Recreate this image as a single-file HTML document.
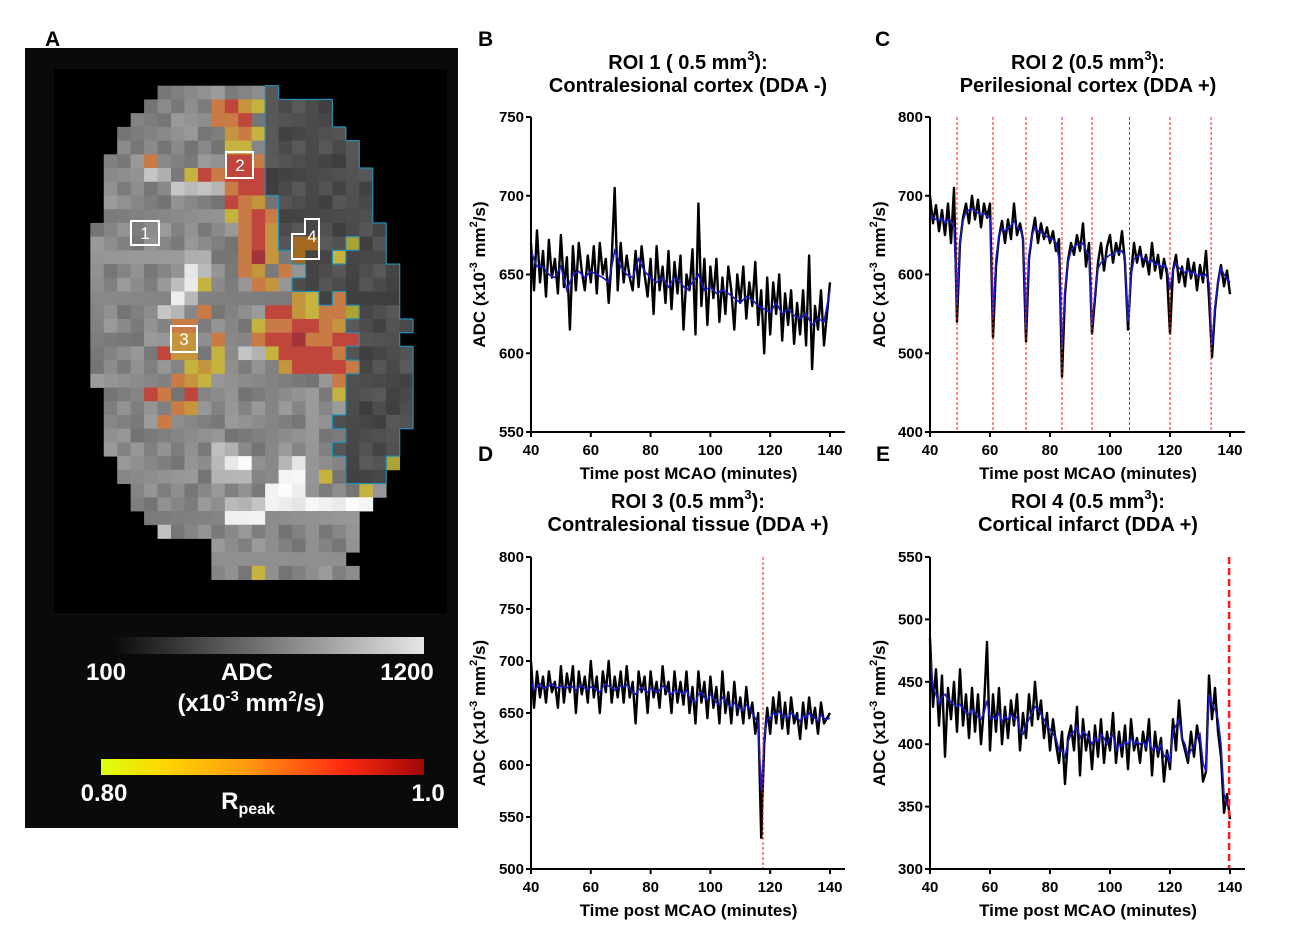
<!DOCTYPE html>
<html><head><meta charset="utf-8"><style>
html,body{margin:0;padding:0;background:#fff;}
svg{display:block;font-family:"Liberation Sans",Arial,sans-serif;}
</style></head><body>
<svg id="fig" width="1311" height="937" viewBox="0 0 1311 937" xmlns="http://www.w3.org/2000/svg">
<defs>
<linearGradient id="gGray" x1="0" x2="1" y1="0" y2="0"><stop offset="0" stop-color="#0a0a0a"/><stop offset="1" stop-color="#e6e6e6"/></linearGradient>
<linearGradient id="gR" x1="0" x2="1" y1="0" y2="0"><stop offset="0" stop-color="#dcff10"/><stop offset="0.2" stop-color="#ffd400"/><stop offset="0.45" stop-color="#ff9a10"/><stop offset="0.75" stop-color="#ff2a10"/><stop offset="1" stop-color="#a00808"/></linearGradient>
</defs>
<g>
<rect x="25" y="48" width="433" height="780" fill="#0a0a0a"/>
<rect x="54" y="69" width="393" height="544" fill="#000"/>
<g id="heat"></g>
<g id="rois" fill="none" stroke="#fff" stroke-width="2">
<rect x="131" y="221" width="28" height="24"/>
<rect x="226" y="152" width="27" height="26"/>
<rect x="171" y="326" width="26" height="26"/>
<polygon points="305,219 319,219 319,259 292,259 292,234 305,234"/>
</g>
<g fill="#fff" font-size="17" text-anchor="middle">
<text x="145" y="239">1</text>
<text x="240" y="171">2</text>
<text x="184" y="345">3</text>
<text x="312" y="242">4</text>
</g>
<rect x="113" y="637" width="311" height="17" fill="url(#gGray)"/>
<g fill="#fff" font-weight="bold" font-size="24" text-anchor="middle">
<text x="106" y="680">100</text>
<text x="247" y="680">ADC</text>
<text x="407" y="680">1200</text>
<text x="251" y="711">(x10<tspan font-size="15" dy="-10">-3</tspan><tspan dy="10"> mm</tspan><tspan font-size="15" dy="-10">2</tspan><tspan dy="10">/s)</tspan></text>
<text x="104" y="801">0.80</text>
<text x="248" y="809">R<tspan font-size="16" dy="5">peak</tspan></text>
<text x="428" y="801">1.0</text>
</g>
<rect x="101" y="759" width="323" height="16" fill="url(#gR)"/>
</g>
<g font-weight="bold" font-size="21" fill="#000">
<text x="45" y="46">A</text>
<text x="478" y="46">B</text>
<text x="875" y="46">C</text>
<text x="478" y="461">D</text>
<text x="876" y="461">E</text>
</g>
<g id="charts"></g>
</svg>
<script>
// ---------- chart data ----------
const xTicks = [40, 60, 80, 100, 120, 140];
const yTicksB = [550, 600, 650, 700, 750];
const yTicksC = [400, 500, 600, 700, 800];
const yTicksD = [500, 550, 600, 650, 700, 750, 800];
const yTicksE = [300, 350, 400, 450, 500, 550];
const rawB = [670,640,678,645,665,636,672,648,660,638,675,642,661,615,668,640,670,652,640,662,645,668,638,670,650,660,632,660,705,640,670,645,662,648,640,665,642,668,650,636,660,625,668,640,655,632,665,628,658,638,662,615,650,640,666,612,695,630,660,618,655,635,660,620,648,625,655,640,615,650,632,655,622,645,630,658,618,640,600,648,612,645,625,650,608,638,618,640,606,632,612,640,605,662,590,630,615,640,605,625,645];
const smoothB = [665,655,655,650,648,655,640,650,652,648,652,650,648,645,665,655,650,648,660,652,648,645,648,642,648,645,640,645,650,640,642,638,640,638,635,632,636,634,630,628,626,632,625,628,624,622,625,618,622,620,640];
const rawC = [700,665,688,655,682,650,690,640,710,540,640,672,690,665,700,670,695,660,690,672,690,520,610,648,668,640,670,645,690,650,665,645,515,620,650,672,640,665,645,660,640,655,630,645,470,575,618,640,625,650,630,665,610,640,525,570,615,640,605,635,650,615,640,625,655,615,530,600,640,615,635,610,625,600,640,605,625,595,620,600,525,605,625,590,610,585,620,595,615,580,612,590,630,570,495,555,590,612,585,605,575];
const smoothC = [680,672,670,668,672,665,670,668,660,560,640,668,680,682,684,680,678,676,678,674,672,545,620,650,658,655,660,662,668,660,658,648,530,625,650,660,655,654,650,648,645,645,640,620,505,580,615,630,635,638,638,640,630,625,535,575,608,615,618,622,625,625,630,628,630,622,540,598,620,622,625,620,620,615,618,612,614,610,612,608,580,605,615,608,606,602,606,600,604,598,600,598,600,590,510,560,590,608,600,595,590];
const rawD = [700,655,690,665,685,660,690,670,680,655,695,660,688,670,695,650,690,668,685,660,700,665,685,650,690,670,700,660,685,665,690,660,695,665,680,640,690,670,685,650,690,665,680,655,695,668,680,650,690,660,680,658,690,650,675,640,690,660,680,645,685,655,675,640,690,650,670,640,680,648,665,640,675,645,660,630,650,530,620,655,630,665,640,670,635,660,630,665,640,650,625,660,635,665,640,655,630,660,640,645,650];
const smoothD = [680,672,675,678,674,675,676,678,676,674,676,675,674,676,675,672,675,676,674,672,675,674,672,670,675,678,676,674,672,674,676,675,677,674,670,668,672,675,672,670,674,672,670,672,676,674,670,668,672,670,670,668,672,665,662,660,668,670,665,662,668,664,660,658,665,662,658,655,660,656,655,652,658,655,650,645,640,575,625,645,645,650,648,652,646,648,645,650,648,646,642,648,645,650,646,645,642,648,645,644,645];
const rawE = [485,430,460,415,455,390,445,420,450,410,460,415,440,405,445,410,440,400,430,482,395,440,410,445,400,430,405,435,415,440,395,425,405,440,415,450,420,435,405,425,395,420,400,385,410,368,405,415,395,430,375,420,395,410,380,415,390,420,385,410,395,425,385,410,390,415,380,420,395,405,385,410,395,420,375,410,390,405,370,395,380,420,395,435,405,395,385,410,390,415,400,370,378,455,420,445,410,390,345,360,340];
const smoothE = [475,445,440,432,438,440,436,434,432,430,432,428,426,424,428,425,422,420,425,435,420,422,420,425,418,422,420,424,420,422,410,408,415,420,425,430,428,424,420,415,412,408,405,395,395,390,402,408,410,415,405,410,408,405,400,405,402,408,405,400,405,408,395,400,398,402,400,405,400,402,400,402,398,405,395,398,395,400,390,392,385,410,415,420,405,400,390,395,398,405,408,385,378,440,432,428,420,400,360,352,355];
const eventsC = [49, 61, 72, 84, 94, 106.5, 120, 133.7];
const eventsD = [117.6];
const eventsE = [139.7];

const NS = 'http://www.w3.org/2000/svg';
function mk(tag, attrs, parent){const e=document.createElementNS(NS,tag);for(const k in attrs)e.setAttribute(k,attrs[k]);if(parent)parent.appendChild(e);return e;}
function times(n, t0, t1){const a=[];for(let i=0;i<n;i++)a.push(t0+(t1-t0)*i/(n-1));return a;}

const panels = [
 {id:'b', xl:531, xr:830, yt:117, yb:432, ymin:550, ymax:750, ticks:yTicksB, raw:rawB, sm:smoothB, ev:[], evw:1,
  t1:['ROI 1 ( 0.5 mm','):'], t2:'Contralesional cortex (DDA -)', cx:688, ty:62, ylx:485},
 {id:'c', xl:930, xr:1230, yt:117, yb:432, ymin:400, ymax:800, ticks:yTicksC, raw:rawC, sm:smoothC, ev:eventsC, evw:1,
  t1:['ROI 2 (0.5 mm','):'], t2:'Perilesional cortex (DDA +)', cx:1088, ty:62, ylx:885},
 {id:'d', xl:531, xr:830, yt:557, yb:869, ymin:500, ymax:800, ticks:yTicksD, raw:rawD, sm:smoothD, ev:eventsD, evw:1,
  t1:['ROI 3 (0.5 mm','):'], t2:'Contralesional tissue (DDA +)', cx:688, ty:501, ylx:485},
 {id:'e', xl:930, xr:1230, yt:557, yb:869, ymin:300, ymax:550, ticks:yTicksE, raw:rawE, sm:smoothE, ev:eventsE, evw:2.5,
  t1:['ROI 4 (0.5 mm','):'], t2:'Cortical infarct (DDA +)', cx:1088, ty:501, ylx:885},
];
const charts = document.getElementById('charts');
panels.forEach(p=>{
  const g = mk('g',{},charts);
  
  
  const X = t => p.xl + (t-40)/(140-40)*(p.xr-p.xl);
  const Y = v => p.yb - (v-p.ymin)/(p.ymax-p.ymin)*(p.yb-p.yt);
  const tr = times(p.raw.length,40,140);
  const pr = mk('polyline',{points:p.raw.map((v,i)=>X(tr[i]).toFixed(1)+','+Y(v).toFixed(1)).join(' '),fill:'none',stroke:'#000','stroke-width':2.4,'stroke-linejoin':'round'},g);
  
  
  const ts = times(p.sm.length,40,140);
  const ps = mk('polyline',{points:p.sm.map((v,i)=>X(ts[i]).toFixed(1)+','+Y(v).toFixed(1)).join(' '),fill:'none',stroke:'#1a1acc','stroke-width':1.6},g);
  
  
  p.ev.forEach((t,i)=>{
    const l = mk('line',{x1:X(t),x2:X(t),y1:p.yt,y2:p.yb,stroke:'#ff1a1a','stroke-width':p.evw,'stroke-dasharray':p.evw>2?'7,4':'3,2'},g);
    
    
  });
  const ya = mk('line',{x1:p.xl,x2:p.xl,y1:p.yt,y2:p.yb+1,stroke:'#000','stroke-width':2},g);
  
  
  const xa = mk('line',{x1:p.xl-1,x2:p.xr+15,y1:p.yb,y2:p.yb,stroke:'#000','stroke-width':2},g);
  
  
  p.ticks.forEach(v=>{
    mk('line',{x1:p.xl-5,x2:p.xl,y1:Y(v),y2:Y(v),stroke:'#000','stroke-width':2},g);
    const t = mk('text',{x:p.xl-7,y:Y(v)+5,'text-anchor':'end','font-size':15,'font-weight':'bold'},g);
    t.textContent = v;
    
    
  });
  xTicks.forEach(v=>{
    mk('line',{x1:X(v),x2:X(v),y1:p.yb,y2:p.yb+5,stroke:'#000','stroke-width':2},g);
    const t = mk('text',{x:X(v),y:p.yb+23,'text-anchor':'middle','font-size':15,'font-weight':'bold'},g);
    t.textContent = v;
    
    
  });
  const xt = mk('text',{x:(p.xl+p.xr)/2+8,y:p.yb+47,'text-anchor':'middle','font-size':17,'font-weight':'bold'},g);
  xt.textContent = 'Time post MCAO (minutes)';
  
  
  const cy = (p.yt+p.yb)/2;
  const yt = mk('text',{x:0,y:0,transform:`translate(${p.ylx},${cy}) rotate(-90)`,'text-anchor':'middle','font-size':17,'font-weight':'bold'},g);
  yt.innerHTML = 'ADC (x10<tspan font-size="11" dy="-8">-3</tspan><tspan dy="8"> mm</tspan><tspan font-size="11" dy="-8">2</tspan><tspan dy="8">/s)</tspan>';
  
  
  const t1 = mk('text',{x:p.cx,y:p.ty+7,'text-anchor':'middle','font-size':20,'font-weight':'bold'},g);
  t1.innerHTML = p.t1[0]+'<tspan font-size="13" dy="-9">3</tspan><tspan dy="9">'+p.t1[1]+'</tspan>';
  
  
  const t2 = mk('text',{x:p.cx,y:p.ty+30,'text-anchor':'middle','font-size':20,'font-weight':'bold'},g);
  t2.textContent = p.t2;
  
  
});

// ---------- panel A image map ----------
const mapRows = [
".....ggggggggd..........",
"....gggggorayddddd......",
"...ggggggoorgddddd......",
"..ggggggggaoydddddd.....",
"..ggggggggyygddddddd....",
".gggogggggrroddddddd....",
".gggllgyrorrrdddddddd...",
".gggggllllorrdddddddd...",
".gggggggggroagddddddd...",
".gggggggggyoroddddddd...",
"gggggggggggoradddddddd..",
"gggggggggggoradbbddvdd..",
"gggggggllggoRagbddyddd..",
"gggggggwlggoagogddddddd.",
"gggggglwygggoagdddddddd.",
"ggggggwlgggggggaydodddd.",
"gggggllgoggggrrayoovddd.",
"ggggggooggggyoorroaddddd",
"ggggggaagoggorrRoorrddd.",
"gggggraagygllyrrrroddddd",
"gggggggyayggggarrrrodddd",
"ggggggoaygggggggggoddddd",
".gggrogrggggggggggyddddd",
".gggggoagggggggggggddddd",
".ggggoggggggggggggdddddd",
".ggggggggggggggggggdddd.",
".ggggggggllgggggggddddd.",
"..ggggggglwwgglwgggdddv.",
"..ggggggglllggwwgygddd..",
"...ggggggggggwwwggggyg..",
"...ggggggglllwwwwwwww...",
"....ggggggwwwggggggg....",
".....lgggggggggggggg....",
".........ggggggggggg....",
".........gggggggggg.....",
".........gggyggggggg...."
];
const heat = document.getElementById('heat');
const X0 = 90.3, Y0 = 85.7, CW = 13.45, CH = 13.72;
const fixed = {y:'#c6b23e',a:'#c4953c',o:'#c97b45',r:'#c0463c',R:'#a2343a',v:'#ada334',b:'#a3691f'};
mapRows.forEach((row,r)=>{
  for(let c=0;c<24;c++){
    const ch=row[c]; if(!ch||ch==='.') continue;
    const n=((r*37+c*91+r*c*13)%41);
    let col;
    if(fixed[ch]) col=fixed[ch];
    else { let v;
      if(ch==='g') v=115+n;
      else if(ch==='d') v=62+Math.round(n*0.7);
      else if(ch==='l') v=175+Math.round(n*0.6);
      else v=228+Math.round(n*0.6);
      v=Math.min(255,v); col=`rgb(${v},${v},${v})`; }
    const rc = mk('rect',{x:(X0+c*CW).toFixed(2),y:(Y0+r*CH).toFixed(2),width:CW+0.4,height:CH+0.4,fill:col},heat);
    
    
  }
});
const isD=(r,c)=>{const row=mapRows[r];if(!row)return false;const ch=row[c];return ch==='d'||ch==='b';};
mapRows.forEach((row,r)=>{
  for(let c=0;c<24;c++){
    if(!isD(r,c))continue;
    const x=X0+c*CW,y=Y0+r*CH;
    const segs=[];
    if(!isD(r-1,c))segs.push([x,y,x+CW,y]);
    if(!isD(r+1,c))segs.push([x,y+CH,x+CW,y+CH]);
    if(!isD(r,c-1))segs.push([x,y,x,y+CH]);
    if(!isD(r,c+1))segs.push([x+CW,y,x+CW,y+CH]);
    segs.forEach(s=>{const l=mk('line',{x1:s[0],y1:s[1],x2:s[2],y2:s[3],stroke:'#1e8fb5','stroke-width':1.2},heat);
      
      });
  }
});
</script>
</body></html>
